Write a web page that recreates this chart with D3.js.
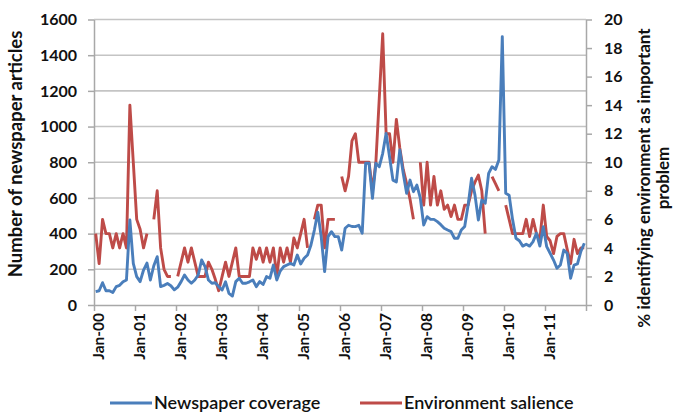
<!DOCTYPE html>
<html>
<head>
<meta charset="utf-8">
<script src="https://cdn.jsdelivr.net/npm/d3@7"></script>
<style>
body { margin: 0; background: #fff; }
text { font-family: Lato, "Open Sans", sans-serif; font-weight: bold; fill: #111; }
</style>
</head>
<body>
<script>
// monthly series, Jan 2000 - Dec 2011
var months = d3.timeMonth.range(new Date(2000, 0, 1), new Date(2012, 0, 1));
var tickLabels = ["Jan-00","Jan-01","Jan-02","Jan-03","Jan-04","Jan-05","Jan-06","Jan-07","Jan-08","Jan-09","Jan-10","Jan-11"];
var leftTicks = [0, 200, 400, 600, 800, 1000, 1200, 1400, 1600];
var rightTicks = [0, 2, 4, 6, 8, 10, 12, 14, 16, 18, 20];

// newspaper articles per month
var coverage = [
  75, 80, 125, 80, 80, 70, 103, 110, 130, 140, 476, 233,
  159, 131, 196, 235, 140, 220, 271, 103, 110, 120, 108, 85,
  100, 131, 168, 140, 122, 140, 168, 252, 215, 140, 122, 125,
  103, 84, 130, 65, 50, 131, 150, 122, 122, 130, 140, 103,
  131, 115, 159, 150, 224, 140, 190, 215, 224, 233, 224, 280,
  230, 262, 280, 336, 420, 520, 383, 187, 383, 411, 383, 383,
  308, 430, 447, 440, 439, 447, 402, 794, 794, 598, 794, 775,
  850, 962, 831, 700, 690, 869, 738, 626, 700, 635, 672, 600,
  448, 495, 480, 480, 467, 450, 430, 420, 411, 374, 374, 420,
  440, 560, 710, 617, 476, 588, 570, 738, 775, 760, 813, 1504,
  626, 615, 480, 374, 360, 330, 340, 330, 355, 402, 330, 439,
  327, 290, 252, 206, 224, 308, 290, 150, 224, 230, 300, 346
];

// % naming environment as most important problem (gaps = no poll)
var salience = [
  5, 2.9, 6, 5, 5, 4, 5, 4, 5, 4, 14, 10,
  6, 5.3, 4, 5, null, 6, 8, 4, 2.5, 2, 2, null,
  2, 3, 4, 3, 4, 3, 2, 2, 2, 3, 2.5, 1.8,
  1, 2, 3, 2, 3, 4, 2, 2, 2, 2, 4, 3.2,
  4, 3, 4, 3, 4, 2, 4, 3, 4, 3, 4.7, 4,
  5, 6, 4, null, 6, 7, 7, 4, 6, 6, 6, null,
  9, 8, 9, 11.5, 12, 10, 10, 10, 10, 8, 10, 14.5,
  19, 12, 12, 10, 13, 11, 9.5, 8.5, 7.4, 6, null, 10,
  7, 10, 7, 9, 7, 8, 6.7, 7, 6.2, 7, 6, 6,
  7, 7, 8, 8.6, 9.1, 8, 5, null, 9, 8.5, 8, null,
  7, 6, 5, 5, 5, 5, 6, 4.8, 6, 5, 4.6, 7,
  4.8, 4.5, 3.6, 4.8, 5, 5, 3.9, 2.9, 4.6, 3.6, 4, 4
];

var W = 677, H = 412;
var pL = 94, pR = 586, pT = 19.5, pB = 305;
var blue = "#4a7ebb", red = "#be4b48";

var svg = d3.select("body").append("svg")
    .attr("width", W)
    .attr("height", H);

var x = d3.scaleBand().domain(d3.range(months.length)).range([pL, pR]);
var xt = d3.scaleLinear().domain([0, months.length]).range([pL, pR]);
var yL = d3.scaleLinear().domain([0, 1600]).range([pB, pT]);
var yR = d3.scaleLinear().domain([0, 20]).range([pB, pT]);
var cx = function(i){ return x(i) + x.bandwidth() / 2; };

// gridlines
svg.append("g").selectAll("line")
    .data(leftTicks.slice(1))
    .enter().append("line")
    .attr("x1", pL).attr("x2", pR)
    .attr("y1", function(d){ return yL(d); })
    .attr("y2", function(d){ return yL(d); })
    .attr("stroke", "#c4c4c4")
    .attr("stroke-width", 1.6);

// left axis
var gl = svg.append("g")
    .attr("transform", "translate(" + pL + ",0)")
    .call(d3.axisLeft(yL).tickValues(leftTicks).tickFormat(d3.format("d"))
        .tickSize(6).tickSizeOuter(0).tickPadding(11));
gl.selectAll("text").style("font-size", "16px").style("font-family", "Lato");

// right axis
var gr = svg.append("g")
    .attr("transform", "translate(" + pR + ",0)")
    .call(d3.axisRight(yR).tickValues(rightTicks).tickSize(6).tickSizeOuter(0).tickPadding(12));
gr.selectAll("text").style("font-size", "16px").style("font-family", "Lato");

// bottom axis
var gb = svg.append("g")
    .attr("transform", "translate(0," + pB + ")")
    .call(d3.axisBottom(xt).tickValues(d3.range(0, months.length + 1, 12))
        .tickSize(6).tickSizeOuter(0)
        .tickFormat(function(d){ return tickLabels[d / 12] || ""; }));
gb.selectAll("text")
    .style("font-size", "15.5px").style("font-family", "Lato")
    .attr("transform", "rotate(-90)")
    .attr("text-anchor", "end")
    .attr("x", -8).attr("y", 4).attr("dy", "0.35em");

[gl, gr, gb].forEach(function(g){
    g.selectAll("path, line").attr("stroke", "#a8a8a8").attr("stroke-width", 1.5);
});

// series
var lineL = d3.line()
    .x(function(d, i){ return cx(i); })
    .y(function(d){ return yL(d); });
var lineR = d3.line()
    .defined(function(d){ return d != null; })
    .x(function(d, i){ return cx(i); })
    .y(function(d){ return yR(d); });

svg.append("path").datum(salience)
    .attr("d", lineR)
    .attr("fill", "none").attr("stroke", red)
    .attr("stroke-width", 2.9).attr("stroke-linejoin", "round");
svg.append("path").datum(coverage)
    .attr("d", lineL)
    .attr("fill", "none").attr("stroke", blue)
    .attr("stroke-width", 2.9).attr("stroke-linejoin", "round");

// axis titles
svg.append("text")
    .attr("transform", "translate(22,154) rotate(-90)")
    .attr("text-anchor", "middle")
    .style("font-size", "18.5px")
    .text("Number of newspaper articles");

var rt = svg.append("text")
    .attr("transform", "translate(650,178) rotate(-90)")
    .attr("text-anchor", "middle")
    .style("font-size", "17px");
rt.append("tspan").attr("x", 0).attr("dy", 0).text("% identifying environment as important");
rt.append("tspan").attr("x", 0).attr("dy", 19).text("problem");

// legend
var legend = [
  { name: "Newspaper coverage", color: blue, x: 110 },
  { name: "Environment salience", color: red, x: 360 }
];
var lg = svg.append("g").selectAll("g").data(legend).enter().append("g")
    .attr("transform", function(d){ return "translate(" + d.x + ",403)"; });
lg.append("line").attr("x1", 0).attr("x2", 42)
    .attr("stroke", function(d){ return d.color; }).attr("stroke-width", 3);
lg.append("text").attr("x", 44).attr("dy", "0.35em")
    .style("font-size", "18px").style("font-weight", "600")
    .text(function(d){ return d.name; });
</script>
</body>
</html>
